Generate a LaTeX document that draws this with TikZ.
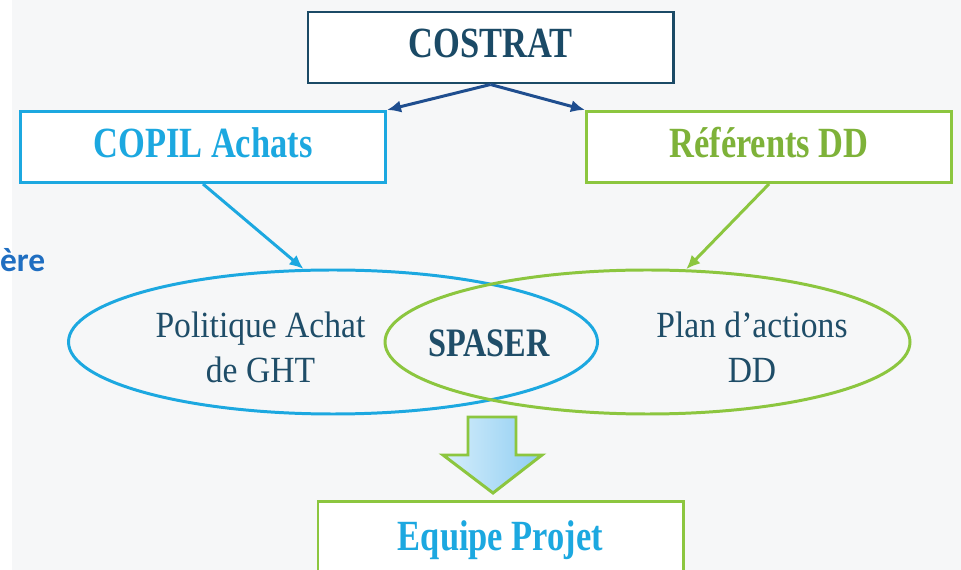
\documentclass[tikz,border=0pt]{standalone}
\usepackage{fontspec}
\setmainfont{Liberation Serif}
\newfontfamily\boxfont[FakeStretch=0.8]{Liberation Serif}
\newfontfamily\ovalfont[FakeStretch=0.91]{Liberation Serif}
\newfontfamily\calibri{Carlito}
\usepackage{xcolor}
\usetikzlibrary{positioning,shapes.geometric,arrows.meta}
\definecolor{dteal}{HTML}{1B4A66}
\definecolor{dblue}{HTML}{1F4E8F}
\definecolor{cyanb}{HTML}{1CA8E0}
\definecolor{greenb}{HTML}{8CC63F}
\definecolor{textb}{HTML}{1F4D68}
\definecolor{titleb}{HTML}{1F6EC1}
\definecolor{bgg}{HTML}{F6F7F8}
\definecolor{arrl}{HTML}{D6EEFB}
\definecolor{arrr}{HTML}{8ECDF2}

\begin{document}
\begin{tikzpicture}[
   box/.style={draw, line width=1.7pt, fill=white, minimum width=7.3cm, minimum height=1.42cm,
               text height=17pt, text depth=5.5pt, font=\boxfont\fontsize{24.5}{28}\selectfont\bfseries},
   oval/.style={ellipse, draw, line width=1.7pt, minimum height=2.88cm},
   lbl/.style={align=center, text=textb, font=\ovalfont\fontsize{21}{25.5}\selectfont},
   link/.style={line width=1.7pt, -{Latex[length=8pt,width=7pt]}}
]
   \clip (0,0) rectangle (19.22,11.4);
   \fill[bgg] (0.24,0) rectangle (19.22,11.4);

   \node[box, draw=dteal, text=dteal] (costrat) at (9.81,10.45) {COSTRAT};
   \node[box, draw=cyanb, text=cyanb] (copil) at (4.06,8.46) {COPIL Achats};
   \node[box, draw=greenb, text=greenb!90!black] (referents) at (15.38,8.46) {Référents DD};

   \node[oval, draw=cyanb, minimum width=10.58cm] (achat) at (6.66,4.56) {};
   \node[oval, draw=greenb, minimum width=10.5cm] (plan) at (12.95,4.56) {};

   \node[lbl] (politique) at (5.21,4.45) {Politique Achat\\de GHT};
   \node[lbl, font=\boxfont\fontsize{23}{26}\selectfont\bfseries] (spaser) at (9.78,4.53) {SPASER};
   \node[lbl] (actions) at (15.04,4.45) {Plan d’actions\\DD};

   \node[box, draw=greenb, text=cyanb, minimum height=1.56cm, anchor=north] (equipe) at (10.01,1.4) {Equipe Projet};

   \node[anchor=base east, inner sep=0pt, text=titleb, font=\calibri\fontsize{19}{22}\selectfont\bfseries] (titre) at (0.91,5.96) {ère};

   \draw[link, dblue] (costrat.south) -- (copil.north east);
   \draw[link, dblue] (costrat.south) -- (referents.north west);
   \draw[link, cyanb] (copil.south) -- (achat.112);
   \draw[link, greenb] (referents.south) -- (plan.62);

   % big arrow down to the project team
   \draw[greenb, line width=1.7pt, left color=arrl, right color=arrr]
      (9.36,3.06) -- (10.32,3.06) -- (10.32,2.3) -- (10.84,2.3) -- (9.86,1.54)
      -- (8.86,2.3) -- (9.36,2.3) -- cycle;
\end{tikzpicture}
\end{document}
